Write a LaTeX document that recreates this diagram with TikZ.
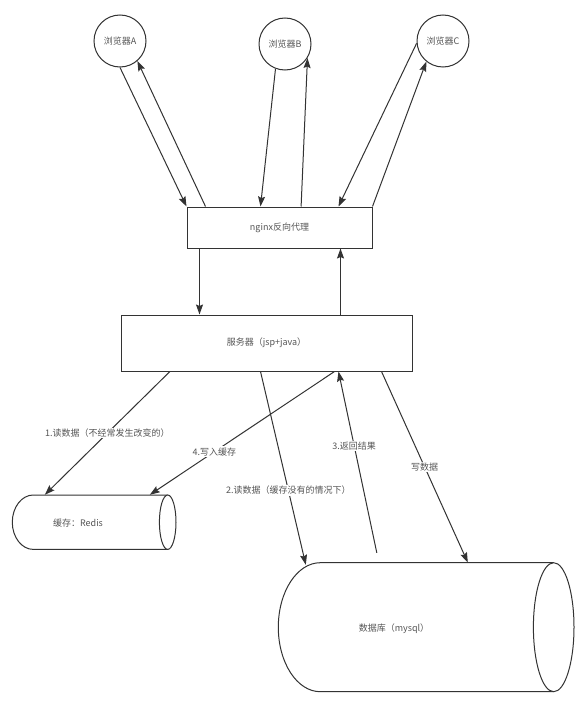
\documentclass[tikz,border=0pt]{standalone}
\usepackage{fontspec}
\setmainfont{Noto Sans CJK SC}
\usetikzlibrary{arrows.meta,calc}
\definecolor{ln}{HTML}{333333}
\definecolor{tx}{HTML}{555555}
\begin{document}
\begin{tikzpicture}[x=1pt,y=1pt,
  every node/.style={font=\fontsize{9}{11}\selectfont, text=tx},
  circ/.style={draw=ln, line width=1pt, circle, minimum size=52pt, inner sep=0pt},
  boxx/.style={draw=ln, line width=1pt, rectangle, inner sep=0pt},
  arr/.style={draw=ln, line width=1pt, -{Stealth[length=10pt,width=7pt,inset=1.5pt]}},
  lbl/.style={fill=white, inner sep=1pt},
  body/.style={rectangle, inner sep=0pt},
  shp/.style={draw=ln, line width=1pt, fill=white}]
\useasboundingbox (0,0) rectangle (588,-701);
\fill[white] (0,0) rectangle (588,-701);

% browsers
\node[circ] (A) at (120,-41) {浏览器A};
\node[circ] (B) at (285,-44) {浏览器B};
\node[circ] (C) at (443,-41) {浏览器C};

% boxes
\node[boxx, minimum width=185pt, minimum height=41pt] (ngx) at (279.5,-227.5) {nginx反向代理};
\node[boxx, minimum width=291pt, minimum height=56pt] (srv) at (266.5,-343) {服务器（jsp+java）};

% cylinders
\path[shp] (167.7,-495) -- (33.3,-495) arc[start angle=90, end angle=270, x radius=21, y radius=27.2] -- (167.7,-549.4);
\draw[shp] (167.7,-522.2) ellipse[x radius=8.3, y radius=27.2];
\node[body, minimum width=163.7pt, minimum height=54.4pt] (redis) at (94.15,-522.2) {};
\node (redistxt) at (78,-523) {缓存：Redis};

\path[shp] (553.7,-562.7) -- (320.3,-562.7) arc[start angle=90, end angle=270, x radius=42, y radius=64.5] -- (553.7,-691.7);
\draw[shp] (553.7,-627.2) ellipse[x radius=20.3, y radius=64.5];
\node[body, minimum width=295.7pt, minimum height=129pt] (db) at (426.15,-627.2) {};
\node (dbtxt) at (394,-629) {数据库（mysql）};

% browsers <-> nginx
\draw[arr] (A.south) -- (ngx.north west);
\draw[arr] ([xshift=19pt]ngx.north west) -- (A.-49);
\draw[arr] (B.-111) -- ([xshift=74pt]ngx.north west);
\draw[arr] ([xshift=114.6pt]ngx.north west) -- (B.-32);
\draw[arr] (C.185) -- ([xshift=152pt]ngx.north west);
\draw[arr] (ngx.north east) -- (C.-129);

% nginx <-> server
\draw[arr] ([xshift=13pt]ngx.south west) -- ([xshift=79pt]srv.north west);
\draw[arr] ([xshift=220pt]srv.north west) -- ([xshift=154pt]ngx.south west);

% server <-> storage
\draw[arr] ([xshift=49.4pt]srv.south west) -- node[lbl, pos=0.5] {1.读数据（不经常发生改变的）} ([xshift=32.7pt]redis.north west);
\draw[arr] ([xshift=140pt]srv.south west) -- node[lbl, pos=0.615] {2.读数据（缓存没有的情况下）} ([xshift=27.7pt,yshift=-2.3pt]db.north west);
\draw[arr] ([xshift=98.7pt,yshift=9.7pt]db.north west) -- node[lbl, pos=0.59] {3.返回结果} ([xshift=218pt]srv.south west);
\draw[arr] ([xshift=214pt]srv.south west) -- node[lbl, pos=0.65] {4.写入缓存} ([xshift=137.7pt]redis.north west);
\draw[arr] ([xshift=261pt]srv.south west) -- node[lbl, pos=0.5] {写数据} ([xshift=189.7pt]db.north west);
\end{tikzpicture}
\end{document}
